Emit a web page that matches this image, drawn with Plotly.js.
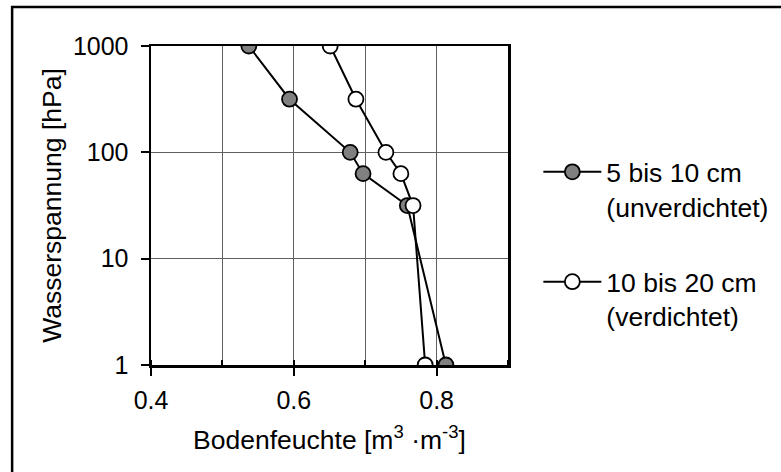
<!DOCTYPE html>
<html>
<head>
<meta charset="utf-8">
<script src="https://cdn.plot.ly/plotly-3.0.1.min.js"></script>
<style>html,body{margin:0;padding:0;background:#fff;}#chart{width:781px;height:472px;}</style>
</head>
<body>
<div id="chart"></div>
<script>
// Data
const pressure = [1000, 316, 100, 63, 31.6, 1];            // Wasserspannung [hPa]
const moistureUnverdichtet = [0.537, 0.594, 0.679, 0.697, 0.759, 0.813]; // 5 bis 10 cm
const moistureVerdichtet   = [0.651, 0.687, 0.729, 0.750, 0.767, 0.784]; // 10 bis 20 cm
const seriesNames = ['5 bis 10 cm<br>(unverdichtet)', '10 bis 20 cm<br>(verdichtet)'];
const yTickVals = [1, 10, 100, 1000];
const yTickText = ['1', '10', '100', '1000'];
const xTickVals = [0.4, 0.6, 0.8];
const xTickText = ['0.4', '0.6', '0.8'];

const FONT = 'Liberation Sans, Arial, Helvetica, sans-serif';

const traces = [
  {
    x: moistureUnverdichtet, y: pressure, name: seriesNames[0],
    type: 'scatter', mode: 'lines+markers', legendgroup: 'a',
    line: {color: '#000', width: 2},
    marker: {symbol: 'circle', size: 15, color: '#808080', line: {color: '#000', width: 1.8}}
  },
  {
    x: moistureVerdichtet, y: pressure, name: seriesNames[1],
    type: 'scatter', mode: 'lines+markers', legendgroup: 'b',
    line: {color: '#000', width: 2},
    marker: {symbol: 'circle', size: 15, color: '#ffffff', line: {color: '#000', width: 1.8}}
  }
];

const layout = {
  width: 781, height: 472,
  margin: {l: 151, r: 273, t: 46, b: 107, pad: 0, autoexpand: false},
  paper_bgcolor: '#fff', plot_bgcolor: '#fff',
  font: {family: FONT, color: '#000', size: 25},
  showlegend: true,
  legend: {
    x: 1.085, y: 0.68, xanchor: 'left', yanchor: 'top',
    font: {family: FONT, size: 26.5, color: '#000'},
    traceorder: 'grouped', tracegroupgap: 38,
    valign: 'top', itemwidth: 58, bgcolor: 'rgba(0,0,0,0)'
  },
  xaxis: {
    type: 'linear', range: [0.4, 0.9], automargin: false,
    tickvals: xTickVals, ticktext: xTickText,
    ticks: 'outside', ticklen: 8, tickwidth: 2, tickcolor: '#000',
    showgrid: true, gridcolor: '#606060', gridwidth: 1,
    minor: {dtick: 0.1, tick0: 0.4, showgrid: true, gridcolor: '#606060', gridwidth: 1, ticks: 'inside', ticklen: 5, tickwidth: 2, tickcolor: '#000'},
    showline: true, linecolor: '#000', linewidth: 2.5, mirror: true,
    zeroline: false, tickfont: {family: FONT, size: 25}, ticklabelstandoff: 3,
    title: {text: 'Bodenfeuchte [m<sup>3</sup> ·m<sup>-3</sup>]', font: {family: FONT, size: 26.5}, standoff: 18}
  },
  yaxis: {
    type: 'log', range: [0, 3], automargin: false,
    tickvals: yTickVals, ticktext: yTickText,
    ticks: 'outside', ticklen: 8, tickwidth: 2, tickcolor: '#000',
    showgrid: true, gridcolor: '#606060', gridwidth: 1,
    showline: true, linecolor: '#000', linewidth: 2.5, mirror: true,
    zeroline: false, tickfont: {family: FONT, size: 25}, ticklabelstandoff: 7,
    title: {text: 'Wasserspannung [hPa]', font: {family: FONT, size: 26.5}, standoff: 4}
  },
  shapes: [{
    type: 'rect', xref: 'paper', yref: 'paper', layer: 'below',
    x0: -0.389, x1: 1.8, y0: -0.4, y1: 1.122,
    line: {color: '#000', width: 2.5}, fillcolor: 'rgba(0,0,0,0)'
  }]
};

Plotly.newPlot('chart', traces, layout, {staticPlot: true, displayModeBar: false});
</script>
</body>
</html>
